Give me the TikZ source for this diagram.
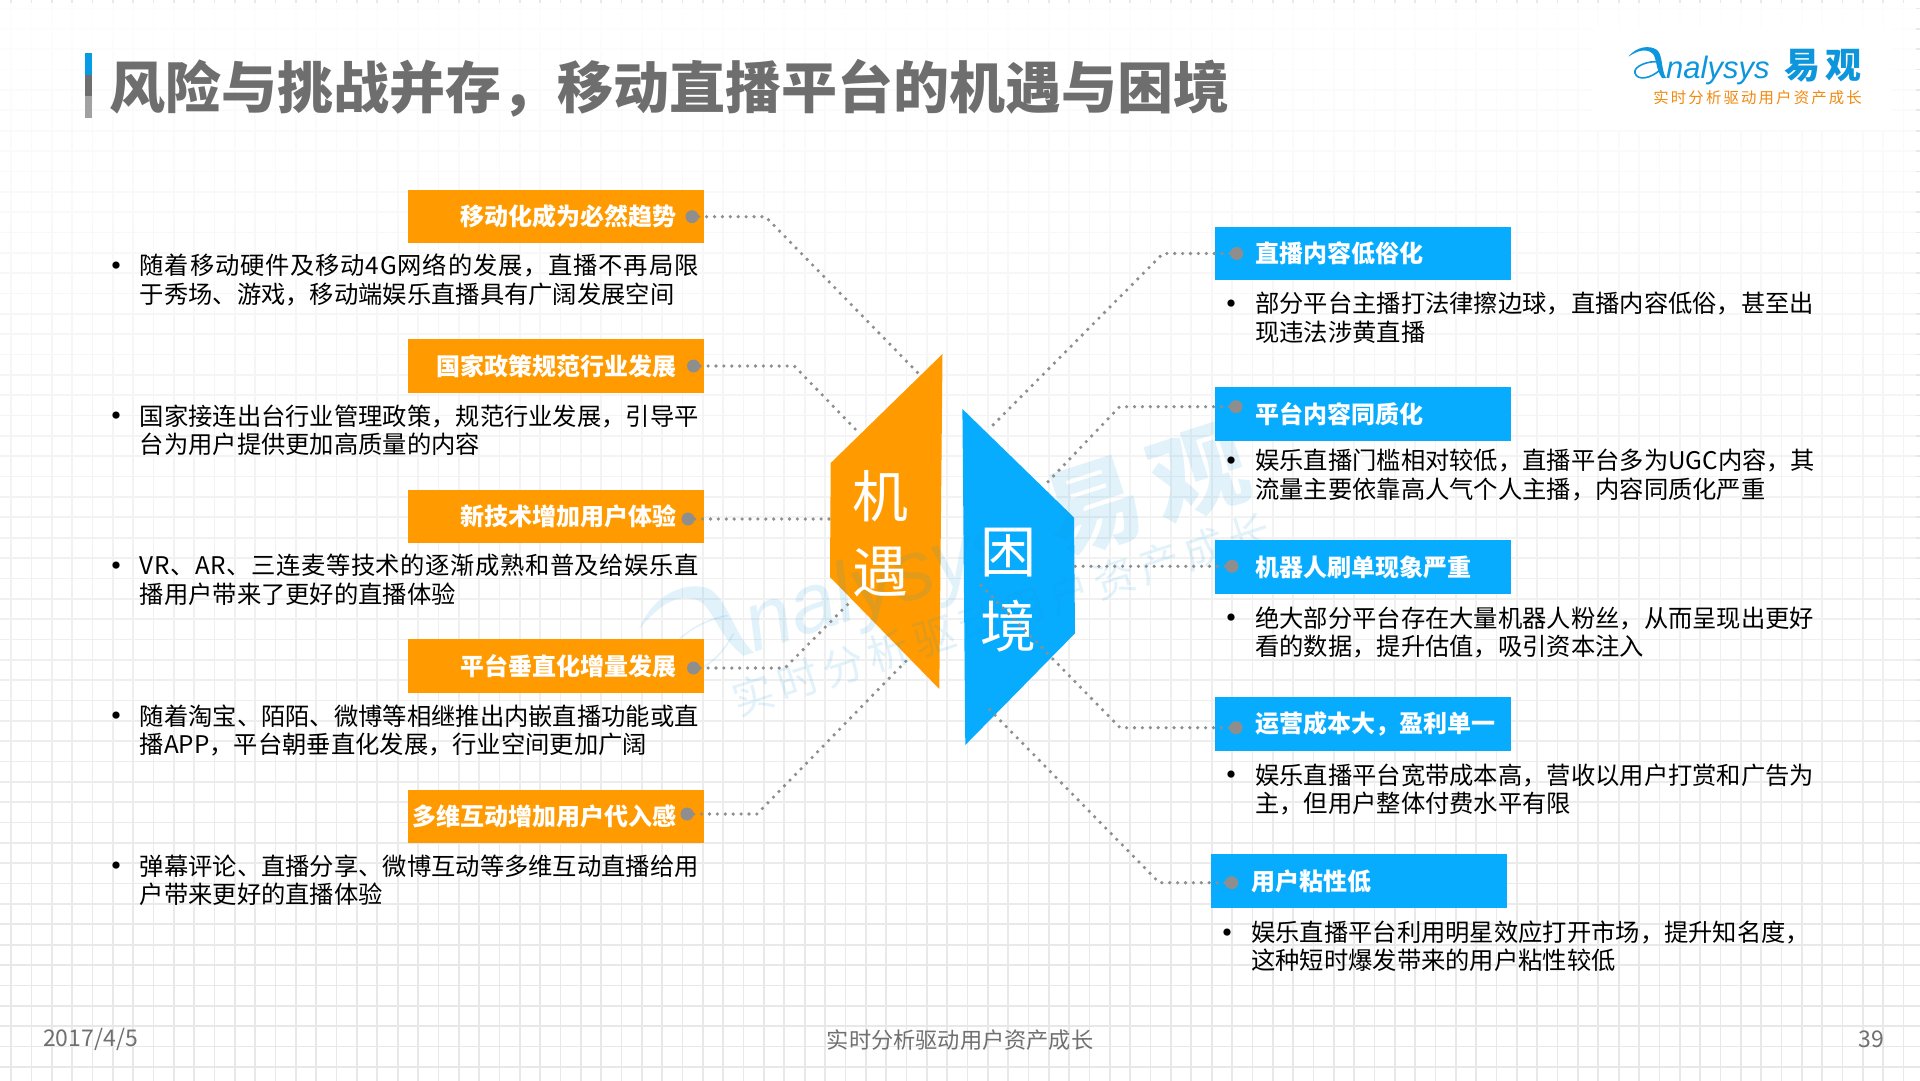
\documentclass[tikz,border=0pt]{standalone}
\usepackage{fontspec}
\usepackage{tikz}
\usetikzlibrary{fadings}
\setmainfont{Noto Sans CJK SC}
\newfontfamily\latinfont{Liberation Sans}
\newfontfamily\tagfont[LetterSpace=14]{Noto Sans CJK SC}

\definecolor{oppcolor}{HTML}{FF9B00}
\definecolor{hardcolor}{HTML}{08ACFF}
\definecolor{linkgray}{HTML}{8E8E8E}
\definecolor{titlegray}{HTML}{6E6E6E}
\definecolor{footgray}{HTML}{707070}
\definecolor{gridgray}{HTML}{E8E8E8}
\definecolor{logoblue}{HTML}{0E96DC}
\definecolor{tagcolor}{HTML}{F08A10}

\newcommand{\pxfont}[2]{\fontsize{#1pt}{#2pt}\selectfont}
\newcommand{\itemdot}{\makebox[0pt][r]{\raisebox{-3.5pt}{\pxfont{34}{28}•}\hspace{6.3pt}}}
\newcommand{\widen}[2]{{\addfontfeature{LetterSpace=#1}#2}}
\newcommand{\opptext}[1]{\makebox[296pt][r]{#1\hspace{27pt}}}
\newcommand{\hardtext}[1]{\makebox[296pt][l]{\hspace{40pt}#1}}
\newcommand{\logotagy}{28}

\tikzfading[name=gridfade, top color=transparent!5, bottom color=transparent!100]

\tikzset{
  oppbox/.style={fill=oppcolor, text=white, inner sep=0pt, minimum width=296pt, minimum height=53.5pt, font=\pxfont{24}{28}\bfseries},
  hardbox/.style={fill=hardcolor, text=white, inner sep=0pt, minimum width=296pt, minimum height=53.5pt, font=\pxfont{24}{28}\bfseries},
  dotmark/.style={circle, fill=linkgray, inner sep=0pt, minimum size=13pt},
  link/.style={draw=linkgray, line width=3.6pt, line cap=round, dash pattern=on 0pt off 7.9pt},
  bodytext/.style={anchor=west, align=left, inner sep=0pt, text=black, font=\pxfont{24.3}{28.4}},
  bigword/.style={align=center, inner sep=0pt, text=white, font=\pxfont{56}{75}},
  foottext/.style={inner sep=0pt, text=footgray, font=\pxfont{23}{28}},
  analysyslogo/.pic={
    \fill[logoblue] (-116.7,-13.3) .. controls (-108,-24) and (-95,-25) .. (-88,-20) .. controls (-82,-15) and (-84,0) .. (-79,8) -- (-83,8) .. controls (-90,-2) and (-88,-13) .. (-93,-17) .. controls (-100,-22) and (-108,-19) .. cycle;
    \draw[logoblue, line width=1.6pt] (-84,-8) .. controls (-98,-10) and (-112,-3) .. (-110,3) .. controls (-108,11) and (-94,9) .. (-84,-1);
    \node[inner sep=0pt, anchor=base west, text=logoblue, font=\latinfont\itshape\pxfont{31}{34}] (logoname) at (-79,8) {nalysys};
    \node[inner sep=0pt, text=logoblue, font=\pxfont{36}{40}\bfseries] (logocn) at (77.7,-4) {易\hspace{5pt}观};
    \node[inner sep=0pt, text=tagcolor, font=\tagfont\pxfont{15.4}{18}] (logotag) at (12.6,\logotagy) {实时分析驱动用户资产成长};
  }
}

\begin{document}
\begin{tikzpicture}[x=1pt,y=-1pt]
  \useasboundingbox (0,0) rectangle (1920,1080);
  \fill[white] (0,0) rectangle (1920,1080);
  % background grid, fading out towards the top
  \begin{scope}
    \clip (0,0) rectangle (1920,1080);
    \draw[gridgray, line width=1.7pt, step=20.35pt, shift={(11,8.55)}] (-20,-20) grid (1940,1100);
    \fill[white, path fading=gridfade] (0,0) rectangle (1920,1000);
  \end{scope}
  \fill[white] (1593,28) rectangle (1892,130);

  % title
  \fill[hardcolor!90!black] (85,53) rectangle (92,75);
  \fill[titlegray] (85,75) rectangle (92,96);
  \fill[titlegray!65] (85,96) rectangle (92,118);
  \node[anchor=west, inner sep=0pt, text=titlegray, font=\pxfont{56}{60}\bfseries] (headline) at (109,88) {风险与挑战并存，移动直播平台的机遇与困境};
  \pic at (1745,70) {analysyslogo};

  % the two big shapes
  \fill[oppcolor] (942.5,354) -- (939.3,689) -- (830,577) -- (830.7,463) -- cycle;
  \fill[hardcolor] (962.4,409) -- (1074,517.5) -- (1075,633.3) -- (965.3,745) -- cycle;

  % watermark
  \begin{scope}[shift={(950,566)},rotate=18,scale=2.7,transform shape,opacity=0.12]
    \colorlet{tagcolor}{logoblue}
    \renewcommand{\logotagy}{23}
    \pic at (0,0) {analysyslogo};
  \end{scope}

  \node[bigword] (chance) at (880,534) {机\\遇};
  \node[bigword] (plight) at (1008,590) {困\\境};

  % left column
  \node[oppbox] (opp1) at (555.8,216.6) {\opptext{移动化成为必然趋势}};
  \node[oppbox] (opp2) at (555.8,366) {\opptext{国家政策规范行业发展}};
  \node[oppbox] (opp3) at (555.8,516.5) {\opptext{新技术增加用户体验}};
  \node[oppbox] (opp4) at (555.8,666) {\opptext{平台垂直化增量发展}};
  \node[oppbox] (opp5) at (555.8,816.5) {\opptext{多维互动增加用户代入感}};

  \node[bodytext] (opptext1) at (139.6,279.8) {\itemdot \widen{3.4}{随着移动硬件及移动4G网络的发展，直播不再局限}\\于秀场、游戏，移动端娱乐直播具有广阔发展空间};
  \node[bodytext] (opptext2) at (139.6,430.4) {\itemdot 国家接连出台行业管理政策，规范行业发展，引导平\\台为用户提供更加高质量的内容};
  \node[bodytext] (opptext3) at (139.6,579.8) {\itemdot \widen{2.4}{VR、AR、三连麦等技术的逐渐成熟和普及给娱乐直}\\播用户带来了更好的直播体验};
  \node[bodytext] (opptext4) at (139.6,730.4) {\itemdot 随着淘宝、陌陌、微博等相继推出内嵌直播功能或直\\播APP，平台朝垂直化发展，行业空间更加广阔};
  \node[bodytext] (opptext5) at (139.6,880.4) {\itemdot 弹幕评论、直播分享、微博互动等多维互动直播给用\\户带来更好的直播体验};

  \node[dotmark] (oppdot1) at (692,216.7) {};
  \node[dotmark] (oppdot2) at (693.5,366) {};
  \node[dotmark] (oppdot3) at (688,519) {};
  \node[dotmark] (oppdot4) at (693.5,668) {};
  \node[dotmark] (oppdot5) at (687,814) {};

  \coordinate (oppbend1) at (765.5,216.7);
  \coordinate (oppend1) at (918,373);
  \coordinate (oppbend2) at (794.3,366);
  \coordinate (oppend2) at (859,433);
  \coordinate (oppend3) at (829,519);
  \coordinate (oppbend4) at (785,668);
  \coordinate (oppend4) at (850,602);
  \coordinate (oppbend5) at (757,814);
  \coordinate (oppend5) at (907,660);

  \draw[link] (oppdot1) -- (oppbend1) -- (oppend1);
  \draw[link] (oppdot2) -- (oppbend2) -- (oppend2);
  \draw[link] (oppdot3) -- (oppend3);
  \draw[link] (oppdot4) -- (oppbend4) -- (oppend4);
  \draw[link] (oppdot5) -- (oppbend5) -- (oppend5);

  % right column
  \node[hardbox] (hard1) at (1363,253.5) {\hardtext{直播内容低俗化}};
  \node[hardbox] (hard2) at (1363,414) {\hardtext{平台内容同质化}};
  \node[hardbox] (hard3) at (1363,567) {\hardtext{机器人刷单现象严重}};
  \node[hardbox] (hard4) at (1363,724) {\hardtext{运营成本大，盈利单一}};
  \node[hardbox] (hard5) at (1359,881) {\hardtext{用户粘性低}};

  \node[bodytext] (hardtext1) at (1255,317.8) {\itemdot 部分平台主播打法律擦边球，直播内容低俗，甚至出\\现违法涉黄直播};
  \node[bodytext] (hardtext2) at (1255,475.1) {\itemdot 娱乐直播门槛相对较低，直播平台多为UGC内容，其\\流量主要依靠高人气个人主播，内容同质化严重};
  \node[bodytext] (hardtext3) at (1255,632.5) {\itemdot 绝大部分平台存在大量机器人粉丝，从而呈现出更好\\看的数据，提升估值，吸引资本注入};
  \node[bodytext] (hardtext4) at (1255,789.2) {\itemdot 娱乐直播平台宽带成本高，营收以用户打赏和广告为\\主，但用户整体付费水平有限};
  \node[bodytext] (hardtext5) at (1251,946.5) {\itemdot 娱乐直播平台利用明星效应打开市场，提升知名度，\\这种短时爆发带来的用户粘性较低};

  \node[dotmark] (harddot1) at (1236.7,253.5) {};
  \node[dotmark] (harddot2) at (1236,406.7) {};
  \node[dotmark] (harddot3) at (1232,566.3) {};
  \node[dotmark] (harddot4) at (1236,727.7) {};
  \node[dotmark] (harddot5) at (1231.7,882.7) {};

  \coordinate (hardbend1) at (1163,253.5);
  \coordinate (hardend1) at (992,426);
  \coordinate (hardbend2) at (1119.6,406.7);
  \coordinate (hardend2) at (1043,487);
  \coordinate (hardend3) at (1075,566.3);
  \coordinate (hardbend4) at (1120,727.7);
  \coordinate (hardend4) at (980.7,585);
  \coordinate (hardbend5) at (1159.3,882.7);
  \coordinate (hardend5) at (988,708);

  \draw[link] (harddot1) -- (hardbend1) -- (hardend1);
  \draw[link] (harddot2) -- (hardbend2) -- (hardend2);
  \draw[link] (harddot3) -- (hardend3);
  \draw[link] (harddot4) -- (hardbend4) -- (hardend4);
  \draw[link] (harddot5) -- (hardbend5) -- (hardend5);

  % footer
  \node[foottext, anchor=west] (datetext) at (43,1039) {2017/4/5};
  \node[foottext, font=\pxfont{22.2}{28}] (foottag) at (960,1040) {实时分析驱动用户资产成长};
  \node[foottext] (pagenum) at (1871,1039) {39};
\end{tikzpicture}
\end{document}
